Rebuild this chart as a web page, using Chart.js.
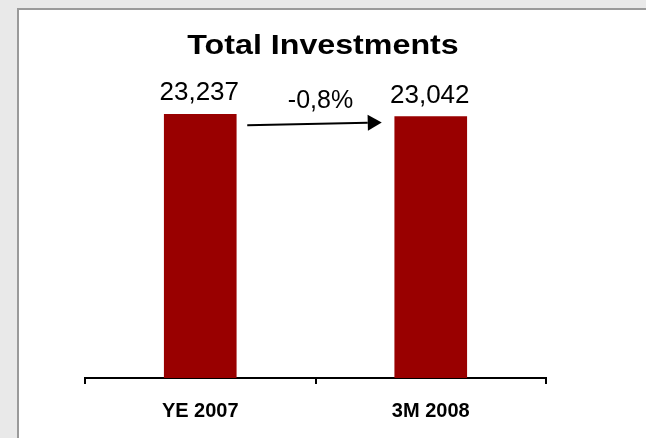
<!DOCTYPE html>
<html>
<head>
<meta charset="utf-8">
<script src="https://cdn.jsdelivr.net/npm/chart.js@4/dist/chart.umd.min.js"></script>
<style>
  html, body { margin: 0; padding: 0; background: #e9e9e9; overflow: hidden; }
  #panel {
    position: absolute; left: 17px; top: 8px; width: 700px; height: 500px;
    background: #ffffff; border: 2px solid #9a9a9a;
  }
  #chartBox { position: absolute; left: 0; top: 0; width: 646px; height: 438px; }
</style>
</head>
<body>
<div id="panel"></div>
<div id="chartBox"><canvas id="investChart" width="646" height="438"></canvas></div>
<script>
// Total investments, year end vs. first quarter
const categories = ['YE 2007', '3M 2008'];
const investments = [23237, 23042];
const chartTitle = 'Total Investments';

const FONT = "Arial, 'Liberation Sans', sans-serif";
const BAR_RED = '#990000';

const fmtValue = v => v.toLocaleString('en-US');

// wide bold heading above the plot
const heading = {
    id: 'heading',
    afterDraw(chart) {
        const ctx = chart.ctx;
        ctx.save();
        ctx.fillStyle = '#000';
        ctx.font = 'bold 28px ' + FONT;
        ctx.textAlign = 'center';
        ctx.textBaseline = 'middle';
        ctx.translate(chart.width / 2, 45.8);
        ctx.scale(1.15, 1);
        ctx.fillText(chartTitle, 0, 0);
        ctx.restore();
    }
};

// value labels over the bars plus the change arrow between them
const barLabels = {
    id: 'barLabels',
    afterDatasetsDraw(chart) {
        const ctx = chart.ctx;
        const bars = chart.getDatasetMeta(0).data;
        ctx.save();
        ctx.fillStyle = '#000';
        ctx.font = '26px ' + FONT;
        ctx.textAlign = 'center';
        ctx.textBaseline = 'alphabetic';
        bars.forEach((bar, i) => {
            ctx.fillText(fmtValue(investments[i]), bar.x - 1, bar.y - 14);
        });

        if (bars.length > 1) {
            const a = bars[0], b = bars[1];
            const x1 = a.x + a.width / 2 + 11, y1 = a.y + 11;
            const x2 = b.x - b.width / 2 - 13, y2 = b.y + 6;
            const head = 14, half = 8;
            const ang = Math.atan2(y2 - y1, x2 - x1);
            ctx.strokeStyle = '#000';
            ctx.lineWidth = 2;
            ctx.beginPath();
            ctx.moveTo(x1, y1);
            ctx.lineTo(x2 - head * Math.cos(ang), y2 - head * Math.sin(ang));
            ctx.stroke();
            ctx.beginPath();
            ctx.moveTo(x2, y2);
            ctx.lineTo(x2 - head * Math.cos(ang) + half * Math.sin(ang), y2 - head * Math.sin(ang) - half * Math.cos(ang));
            ctx.lineTo(x2 - head * Math.cos(ang) - half * Math.sin(ang), y2 - head * Math.sin(ang) + half * Math.cos(ang));
            ctx.closePath();
            ctx.fill();

            const change = (investments[1] - investments[0]) / investments[0] * 100;
            const pct = change.toFixed(1).replace('.', ',') + '%';
            ctx.font = '25px ' + FONT;
            ctx.fillText(pct, (x1 + x2) / 2 + 6, Math.min(y1, y2) - 15);
        }
        ctx.restore();
    }
};

const ctx = document.getElementById('investChart').getContext('2d');
new Chart(ctx, {
    type: 'bar',
    data: {
        labels: categories,
        datasets: [{
            data: investments,
            backgroundColor: BAR_RED,
            borderWidth: 0,
            barThickness: 72
        }]
    },
    options: {
        responsive: false,
        animation: false,
        layout: { padding: { left: 85, right: 100, top: 66, bottom: 0 } },
        plugins: {
            legend: { display: false },
            tooltip: { enabled: false },
            title: { display: false }
        },
        scales: {
            x: {
                grid: {
                    offset: true,
                    drawOnChartArea: false,
                    drawTicks: true,
                    tickLength: 6,
                    color: '#000',
                    lineWidth: 2
                },
                border: { display: true, color: '#000', width: 2 },
                ticks: {
                    color: '#000',
                    padding: 15,
                    font: { family: FONT, size: 20, weight: 'bold' }
                }
            },
            y: {
                display: false,
                min: 0,
                max: 27500
            }
        }
    },
    plugins: [barLabels, heading]
});
</script>
</body>
</html>
